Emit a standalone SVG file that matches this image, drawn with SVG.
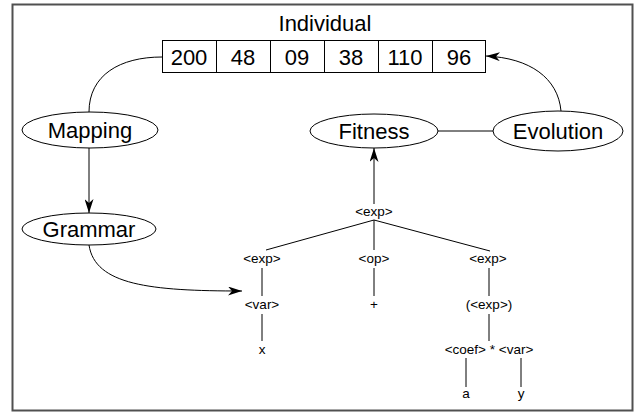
<svg xmlns="http://www.w3.org/2000/svg" width="641" height="414" viewBox="0 0 641 414">
<defs>
<marker id="arr" viewBox="0 0 14 9" refX="14" refY="4.5" markerWidth="14" markerHeight="9" markerUnits="userSpaceOnUse" orient="auto">
<path d="M0,0 L14,4.5 L0,9 L4,4.5 Z" fill="#000"/>
</marker>
</defs>
<style>
.big{font-family:"Liberation Sans",Arial,sans-serif;font-size:22px;fill:#000;text-anchor:middle}
.sm{font-family:"Liberation Sans",Arial,sans-serif;font-size:13.5px;fill:#000;text-anchor:middle}
.node{fill:#fff;stroke:#000;stroke-width:1}
.ln{fill:none;stroke:#000;stroke-width:1}
</style>
<rect x="0" y="0" width="641" height="414" fill="#fff"/>
<rect x="12.5" y="4.5" width="620" height="406" fill="none" stroke="#505050" stroke-width="2"/>
<g id="individual">
<text class="big" x="325" y="31">Individual</text>
<rect class="node" x="162.5" y="40.5" width="323" height="32"/>
<line class="ln" x1="216.5" y1="40.5" x2="216.5" y2="72.5"/>
<line class="ln" x1="270.5" y1="40.5" x2="270.5" y2="72.5"/>
<line class="ln" x1="324.5" y1="40.5" x2="324.5" y2="72.5"/>
<line class="ln" x1="378.5" y1="40.5" x2="378.5" y2="72.5"/>
<line class="ln" x1="432.5" y1="40.5" x2="432.5" y2="72.5"/>
<text class="big" x="189" y="65">200</text>
<text class="big" x="243" y="65">48</text>
<text class="big" x="297" y="65">09</text>
<text class="big" x="351" y="65">38</text>
<text class="big" x="405" y="65">110</text>
<text class="big" x="459" y="65">96</text>
</g>
<g id="connectors">
<path class="ln" d="M89,112 C89,75 120,57 162,57"/>
<path class="ln" d="M561,111 C558,78 530,58 486,56" marker-end="url(#arr)"/>
<line class="ln" x1="89" y1="148" x2="89" y2="213" marker-end="url(#arr)"/>
<path class="ln" d="M89,245 C95,285 150,291 242,291" marker-end="url(#arr)"/>
<line class="ln" x1="438" y1="131" x2="493" y2="131"/>
<line class="ln" x1="374" y1="204" x2="374" y2="148" marker-end="url(#arr)"/>
</g>
<g id="mapping">
<ellipse class="node" cx="90" cy="130" rx="68" ry="18"/>
<text class="big" x="90" y="138">Mapping</text>
</g>
<g id="grammar">
<ellipse class="node" cx="89" cy="229" rx="67" ry="16"/>
<text class="big" x="89" y="237">Grammar</text>
</g>
<g id="fitness">
<ellipse class="node" cx="374" cy="131" rx="64" ry="17"/>
<text class="big" x="374" y="139">Fitness</text>
</g>
<g id="evolution">
<ellipse class="node" cx="558" cy="131" rx="65" ry="20"/>
<text class="big" x="558" y="139">Evolution</text>
</g>
<g id="tree">
<text class="sm" x="374" y="216">&lt;exp&gt;</text>
<line class="ln" x1="374" y1="220" x2="266" y2="250"/>
<line class="ln" x1="374" y1="220" x2="374" y2="250"/>
<line class="ln" x1="374" y1="220" x2="490" y2="251"/>
<text class="sm" x="262" y="263">&lt;exp&gt;</text>
<text class="sm" x="374" y="263">&lt;op&gt;</text>
<text class="sm" x="488" y="263">&lt;exp&gt;</text>
<line class="ln" x1="262" y1="268" x2="262" y2="296"/>
<line class="ln" x1="374" y1="268" x2="374" y2="296"/>
<line class="ln" x1="489" y1="268" x2="489" y2="296"/>
<text class="sm" x="262" y="309">&lt;var&gt;</text>
<text class="sm" x="374" y="309">+</text>
<text class="sm" x="489" y="309">(&lt;exp&gt;)</text>
<line class="ln" x1="262" y1="314" x2="262" y2="341"/>
<line class="ln" x1="489" y1="314" x2="489" y2="341"/>
<text class="sm" x="262" y="354">x</text>
<text class="sm" x="489" y="354">&lt;coef&gt; * &lt;var&gt;</text>
<line class="ln" x1="466" y1="358" x2="466" y2="387"/>
<line class="ln" x1="521" y1="358" x2="521" y2="387"/>
<text class="sm" x="466" y="398">a</text>
<text class="sm" x="521" y="398">y</text>
</g>
</svg>
